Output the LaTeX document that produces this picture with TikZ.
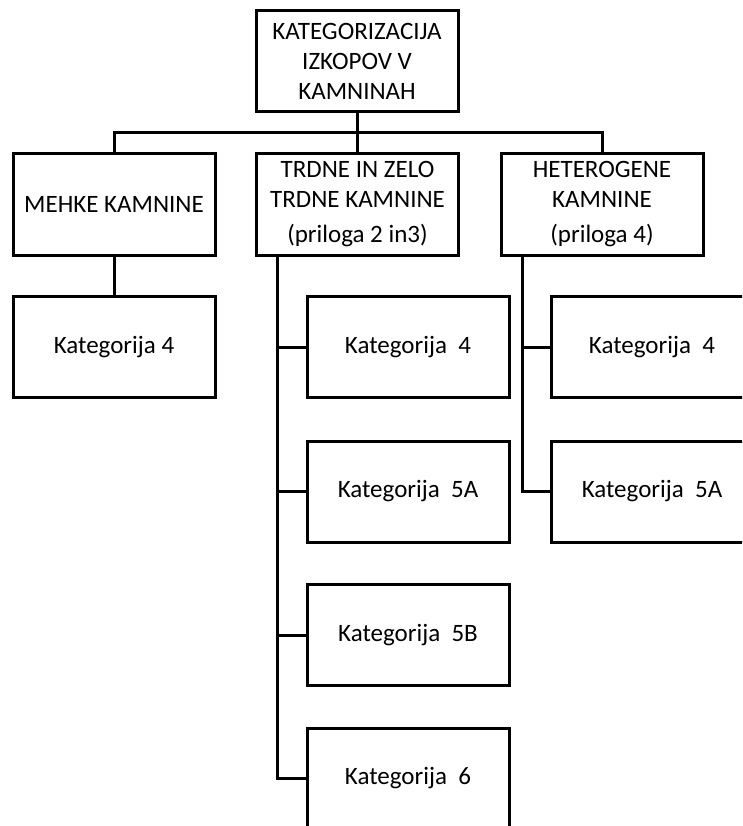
\documentclass[tikz,border=0pt]{standalone}
\usepackage{fontspec}
\setmainfont{Carlito}
\usetikzlibrary{positioning}

\begin{document}
\begin{tikzpicture}
  [x=1pt,y=-1pt,line width=3pt,
   every node/.style={draw,rectangle,minimum width=202pt,minimum height=101pt,
     align=center,font=\fontsize{25}{30}\selectfont,inner sep=0pt}]
  \clip (0,0) rectangle (742,826);
  \node (top) at (357,61.5) {KATEGORIZACIJA\\IZKOPOV V\\KAMNINAH};
  \node (mehke) at (114,204.5) {MEHKE KAMNINE};
  \node (trdne) at (357.5,204.5) {TRDNE IN ZELO\\TRDNE KAMNINE\\[5pt](priloga 2 in3)};
  \node (hetero) at (602,204.5) {HETEROGENE\\KAMNINE\\[5pt](priloga 4)};
  \node (m4) at (114,347) {Kategorija 4};
  \node (t4) at (408,347) {Kategorija~ 4};
  \node (t5a) at (408,491.5) {Kategorija~ 5A};
  \node (t5b) at (408,635) {Kategorija~ 5B};
  \node (t6) at (408,778.5) {Kategorija~ 6};
  \node (h4) at (652,347) {Kategorija~ 4};
  \node (h5a) at (652,491.5) {Kategorija~ 5A};
  \coordinate (bus) at (357,133);
  \coordinate (ttrunk) at (277,255);
  \coordinate (htrunk) at (522,255);
  \draw (top.south) -- (bus);
  \draw (mehke.north) |- (bus) -| (hetero.north);
  \draw (trdne.north) -- (trdne.north |- bus);
  \draw (mehke) -- (m4);
  \draw (ttrunk) |- (t6.west);
  \draw (htrunk) |- (h5a.west);
  \foreach \to in {t4,t5a,t5b}
    \draw (ttrunk |- \to.west) -- (\to.west);
  \draw (htrunk |- h4.west) -- (h4.west);
\end{tikzpicture}
\end{document}
